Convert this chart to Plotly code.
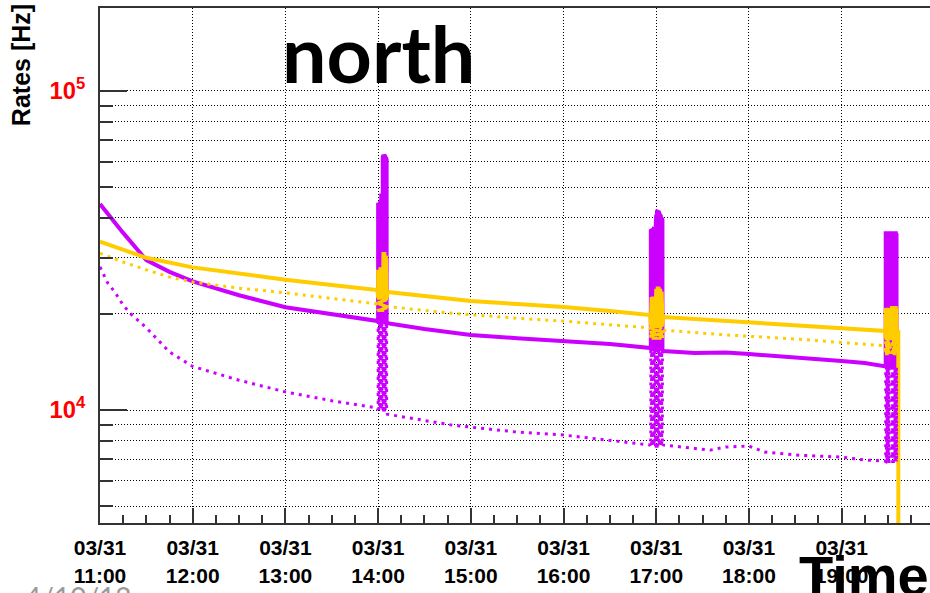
import plotly.graph_objects as go
from datetime import datetime

DAY = "2012-03-31"

# ---- baseline readings: time (HH:MM[:SS]) and rate [Hz] ----
violet_t = ["11:00", "11:05", "11:10", "11:15", "11:30", "11:45", "12:00", "12:30", "13:00", "13:30", "13:59:30",
            "14:06", "14:30", "14:48", "15:00", "15:30", "16:00", "16:30", "16:56",
            "17:04:30", "17:25", "17:45", "18:00", "18:30", "19:00", "19:15", "19:28", "19:31:15"]
violet_v = [44200, 41200, 38600, 35900, 29500, 27100, 25300, 22900, 21000, 20000, 19150,
            18700, 17950, 17450, 17200, 16800, 16450, 16100, 15650,
            15300, 15100, 15150, 14980, 14650, 14250, 14050, 13760, 13700]

orange_t = ["11:00", "11:15", "11:30", "12:00", "12:30", "13:00", "13:30", "13:59:30", "14:06", "14:48", "15:00",
            "15:30", "16:00", "16:30", "16:56", "17:04:30", "17:45", "18:00", "18:30", "19:00", "19:28",
            "19:31:15", "19:36", "19:36:40", "19:36:40"]
orange_v = [33700, 31700, 30000, 28000, 26700, 25600, 24650, 23780, 23440, 22230, 21960,
            21490, 21030, 20430, 19850, 19570, 19010, 18740, 18340, 18070, 17690,
            17600, 17550, 17550, 3000]

orange_dot_t = ["11:00", "11:15", "11:30", "11:45", "12:00", "12:30", "13:00", "13:30", "13:59:30", "14:06", "14:48",
                "15:30", "16:00", "16:30", "16:56", "17:04:30", "17:45", "18:30", "19:00", "19:28", "19:31:15"]
orange_dot_v = [31000, 29100, 27500, 26100, 25200, 24100, 23300, 22400, 21500, 21100, 20100,
                19400, 19000, 18500, 18100, 17800, 17200, 16700, 16300, 15900, 15800]

violet_dot_t = ["11:00", "11:05", "11:10", "11:15", "11:20", "11:30", "11:45", "12:00", "12:30", "13:00", "13:30",
                "13:59:30", "14:06", "14:48", "15:00", "15:30", "16:00", "16:30", "16:56", "17:04:30", "17:25",
                "17:35", "17:45", "18:00", "18:10", "18:30", "19:00", "19:15", "19:28", "19:31:15"]
violet_dot_v = [28100, 25000, 23300, 21300, 20000, 18100, 15200, 13700, 12400, 11400, 10700,
                10150, 9700, 8970, 8840, 8530, 8350, 8050, 7770, 7770, 7600,
                7490, 7660, 7710, 7390, 7230, 7120, 6970, 6920, 6900]

# ---- burst periods: sample times, peak rate(s), floor rate ----
burst1_t = ["14:00:00", "14:00:30", "14:01:00", "14:01:30", "14:02:00", "14:02:30",
            "14:03:00", "14:03:30", "14:04:00", "14:04:30", "14:05:00", "14:05:30"]
burst2_t = ["16:56:30", "16:57:00", "16:57:30", "16:58:00", "16:58:30", "16:59:00", "16:59:30",
            "17:00:00", "17:00:30", "17:01:00", "17:01:30", "17:02:00", "17:02:30", "17:03:00", "17:03:30", "17:04:00"]
burst3a_t = ["19:28:30", "19:29:00", "19:29:30", "19:30:00", "19:30:30"]
burst3b_t = ["19:32:30", "19:33:00", "19:33:30", "19:34:00", "19:34:30", "19:35:00", "19:35:30"]

violet_bursts = [
    (burst1_t, [44000, 44000, 44500, 45000, 47000, 47000, 62000, 63000, 63000, 62500, 62000, 61000], 19000),
    (burst2_t, [36500, 36700, 36700, 36800, 36800, 36700, 36600,
                41000, 42000, 42200, 42000, 41500, 41000, 40500, 40000, 39500], 15500),
    (burst3a_t, 35800, 13700),
    (burst3b_t, 35800, 13700),
]
orange_bursts = [
    (burst1_t, [27500, 27500, 27800, 28000, 28000, 28000, 31000, 31300, 31300, 31000, 30500, 30000], 22500),
    (burst2_t, [22500, 22600, 22600, 22700, 22700, 22600, 22600,
                24000, 24300, 24400, 24300, 24200, 24000, 23800, 23500, 23300], 18500),
    (burst3a_t, 20900, 16800),
    (burst3b_t, 20900, 16800),
]
orange_dot_bursts = [
    (burst1_t, 23500, 20500),
    (burst2_t, 19000, 16800),
    (burst3a_t, 17500, 15000),
    (burst3b_t, 17500, 15000),
]
violet_dot_bursts = [
    (burst1_t, 18900, 10000),
    (burst2_t, 15400, 7700),
    (burst3a_t, 13600, 6900),
    (burst3b_t, 13600, 6900),
]


def stamp(hms):
    if hms.count(":") == 1:
        hms += ":00"
    return datetime.strptime(f"{DAY} {hms}", "%Y-%m-%d %H:%M:%S")


def build(base_t, base_v, bursts):
    pts = [(stamp(t), v) for t, v in zip(base_t, base_v)]
    for times, hi, lo in bursts:
        his = hi if isinstance(hi, list) else [hi] * len(times)
        seg = []
        for i, (t, h) in enumerate(zip(times, his)):
            ts = stamp(t)
            if i % 2 == 0:
                seg += [(ts, lo), (ts, h)]
            else:
                seg += [(ts, h), (ts, lo)]
        if seg[-1][1] != lo:
            seg.append((seg[-1][0], lo))
        pts += seg
    pts.sort(key=lambda p: p[0])
    return [p[0] for p in pts], [p[1] for p in pts]


VIOLET = "#cc00ff"
ORANGE = "#ffcc00"
DOTS = "3px,5px"

fig = go.Figure()
x, y = build(violet_t, violet_v, violet_bursts)
fig.add_trace(go.Scatter(x=x, y=y, mode="lines", line=dict(color=VIOLET, width=4)))
x, y = build(orange_t, orange_v, orange_bursts)
fig.add_trace(go.Scatter(x=x, y=y, mode="lines", line=dict(color=ORANGE, width=4)))
x, y = build(orange_dot_t, orange_dot_v, orange_dot_bursts)
fig.add_trace(go.Scatter(x=x, y=y, mode="lines", line=dict(color=ORANGE, width=3, dash=DOTS)))
x, y = build(violet_dot_t, violet_dot_v, violet_dot_bursts)
fig.add_trace(go.Scatter(x=x, y=y, mode="lines", line=dict(color=VIOLET, width=3, dash=DOTS)))

AXIS_FONT = "Liberation Sans, Arial, sans-serif"

fig.update_layout(
    width=930, height=593,
    margin=dict(l=100, r=0, t=8, b=70),
    paper_bgcolor="white", plot_bgcolor="white",
    showlegend=False,
    xaxis=dict(
        type="date",
        range=[f"{DAY} 11:00:00", f"{DAY} 19:57:10"],
        dtick=3600000, tick0=f"{DAY} 11:00:00",
        tickformat="%m/%d<br>%H:%M",
        tickfont=dict(family=AXIS_FONT, size=21, color="black", weight="bold"),
        ticks="inside", ticklen=15, tickwidth=2, tickcolor="#333",
        ticklabelstandoff=5,
        showline=True, linecolor="#333", linewidth=2, mirror=True,
        showgrid=True, gridcolor="black", gridwidth=1, griddash="1px,2px",
        minor=dict(dtick=900000, ticks="inside", ticklen=8, tickwidth=2, tickcolor="#333", showgrid=False),
        zeroline=False,
    ),
    yaxis=dict(
        type="log",
        range=[3.646, 5.26],
        dtick=1,
        exponentformat="power",
        tickfont=dict(family=AXIS_FONT, size=19, color="red", weight="bold"),
        ticks="inside", ticklen=27, tickwidth=2, tickcolor="#333",
        ticklabelstandoff=9,
        showline=True, linecolor="#333", linewidth=2, mirror=False,
        showgrid=True, gridcolor="black", gridwidth=1, griddash="1px,2px",
        minor=dict(dtick="D1", ticks="inside", ticklen=13, tickwidth=2, tickcolor="#333",
                   showgrid=True, gridcolor="black", gridwidth=1, griddash="1px,2px"),
        zeroline=False,
    ),
    annotations=[
        dict(text="north", xref="paper", yref="paper", x=0.3355, y=0.9145,
             xanchor="center", yanchor="middle", showarrow=False,
             font=dict(family="Lato, sans-serif", size=79, color="black", weight="bold")),
        dict(text="Rates [Hz]", xref="paper", yref="paper", x=-0.0952, y=0.889,
             xanchor="center", yanchor="middle", textangle=-90, showarrow=False,
             font=dict(family=AXIS_FONT, size=25, color="black", weight="bold")),
        dict(text="Time", xref="paper", yref="paper", x=0.8398, y=-0.0369,
             xanchor="left", yanchor="top", showarrow=False,
             font=dict(family=AXIS_FONT, size=56, color="black", weight="bold")),
        dict(text="4/10/12", xref="paper", yref="paper", x=-0.0928, y=-0.107,
             xanchor="left", yanchor="top", showarrow=False,
             font=dict(family="Lato, sans-serif", size=28, color="#9a9a9a")),
    ],
)

fig.write_html("out.html")
